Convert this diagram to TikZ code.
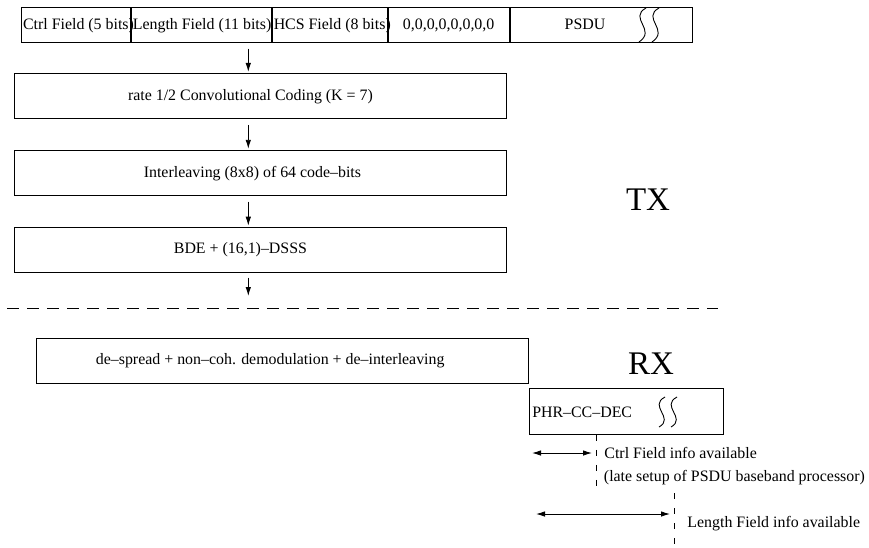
\documentclass[tikz,border=0pt]{standalone}
\usepackage{fontspec}
\setmainfont{Liberation Serif}
\usetikzlibrary{arrows.meta, calc, positioning}

\begin{document}
\begin{tikzpicture}[x=1pt, y=-1pt, line width=0.9pt,
	font=\fontsize{15.9}{19}\selectfont,
	field/.style={draw, rectangle, inner sep=0pt, minimum height=35pt, anchor=north west},
	stage/.style={draw, rectangle, inner sep=0pt, minimum height=45pt, anchor=north west},
	flow/.style={-{Latex[length=9pt, width=5.5pt]}},
	span/.style={{Latex[length=9pt, width=5.5pt]}-{Latex[length=9pt, width=5.5pt]}},
	sep/.style={dash pattern=on 12pt off 8pt},
	mark line/.style={line width=0.8pt, dash pattern=on 6pt off 9pt},
	side/.style={font=\fontsize{33}{38}\selectfont}]
				\useasboundingbox (0,0) rectangle (869,547);
				
				\node[field, minimum width=108.7pt] (ctrlfield) at (21.3,7.3) {};
				\node[field, minimum width=140pt, right = 0pt of ctrlfield.north east, anchor=north west] (lenfield) {};
				\node[field, minimum width=115pt, right = 0pt of lenfield.north east, anchor=north west] (hcsfield) {};
				\node[field, minimum width=121pt, right = 0pt of hcsfield.north east, anchor=north west] (zerofield) {0,0,0,0,0,0,0,0};
				\node[field, minimum width=182.3pt, right = 0pt of zerofield.north east, anchor=north west] (psdufield) {};
				\node[anchor=west, inner sep=0pt] (ctrltext) at ($(ctrlfield.west) + (1.3,0)$) {Ctrl Field (5 bits)};
				\node[anchor=west, inner sep=0pt] (lentext) at ($(lenfield.west) + (1.5,0)$) {Length Field (11 bits)};
				\node[anchor=west, inner sep=0pt] (hcstext) at ($(hcsfield.west) + (1.5,0)$) {HCS Field (8 bits)};
				\draw (ctrlfield.north east) -- (ctrlfield.south east);
				\draw (lenfield.north east) -- (lenfield.south east);
				\draw (hcsfield.north east) -- (hcsfield.south east);
				\node (psdutext) at (585,24.8) {PSDU};
				\draw (646,8) .. controls (628,18) and (657,30) .. (639,42);
				\draw (659,8) .. controls (641,18) and (670,30) .. (652,42);
				
				\node[stage, minimum width=492pt] (convbox) at (14,73.4) {};
				\node at ($(convbox.center) + (-10,0)$) {rate 1/2 Convolutional Coding (K = 7)};
				\node[stage, minimum width=492pt, below = 31pt of convbox.south west, anchor=north west] (intlbox) {};
				\node at ($(intlbox.center) + (-8,0)$) {Interleaving (8x8) of 64 code--bits};
				\node[stage, minimum width=492pt, below = 31pt of intlbox.south west, anchor=north west] (bdebox) {};
				\node at ($(bdebox.center) + (-20,0)$) {BDE + (16,1)--DSSS};
				
				\coordinate (flowx) at (248.3,0);
				\coordinate (txend) at (248.3,296);
				\draw[flow] ($(flowx |- lenfield.south) + (0,5.5)$) -- ($(flowx |- convbox.north) - (0,1.5)$);
				\draw[flow] ($(flowx |- convbox.south) + (0,5.5)$) -- ($(flowx |- intlbox.north) - (0,1.5)$);
				\draw[flow] ($(flowx |- intlbox.south) + (0,5.5)$) -- ($(flowx |- bdebox.north) - (0,1.5)$);
				\draw[flow] ($(flowx |- bdebox.south) + (0,4.5)$) -- (txend);
				
				\node[side] (txlabel) at (648,200) {TX};
				\coordinate (sepleft) at (7,308.3);
				\coordinate (sepright) at (718,308.3);
				\draw[sep] (sepleft) -- (sepright);
				\node[side] (rxlabel) at (651,364) {RX};
				
				\node[stage, minimum width=492.5pt] (despbox) at (35.5,338) {};
				\node at ($(despbox.center) + (-12,0)$) {de--spread + non--coh. demodulation + de--interleaving};
				\node[stage, minimum width=194pt, minimum height=46.3pt] (phrbox) at (529.3,387.7) {};
				\node[anchor=west, inner sep=0pt] (phrtext) at ($(phrbox.west) + (2.5,1)$) {PHR--CC--DEC};
				\draw (665,397) .. controls (648,406) and (675,418) .. (659,427);
				\draw (677,397) .. controls (660,406) and (687,418) .. (671,427);
				
				\coordinate (ctrltop) at (phrbox.south -| 596,0);
				\coordinate (ctrlbot) at (596,488);
				\draw[mark line] (ctrltop) -- (ctrlbot);
				\coordinate (lentop) at (674,493);
				\coordinate (lenbot) at (674,547);
				\draw[mark line] (lentop) -- (lenbot);
				
				\draw[span] ($(phrbox.west |- 0,453) + (2.7,0)$) -- ($(ctrltop |- 0,453) - (4,0)$);
				\node[anchor=west, inner sep=0pt] (ctrlinfo) at (604,453) {Ctrl Field info available};
				\node[anchor=west, inner sep=0pt] (latesetup) at (603.5,478) {(late setup of PSDU baseband processor)};
				\draw[span] (536,514) -- ($(lentop |- 0,514) - (4,0)$);
				\node[anchor=west, inner sep=0pt] (leninfo) at (687,524) {Length Field info available};
				
				\end{tikzpicture}
\end{document}
